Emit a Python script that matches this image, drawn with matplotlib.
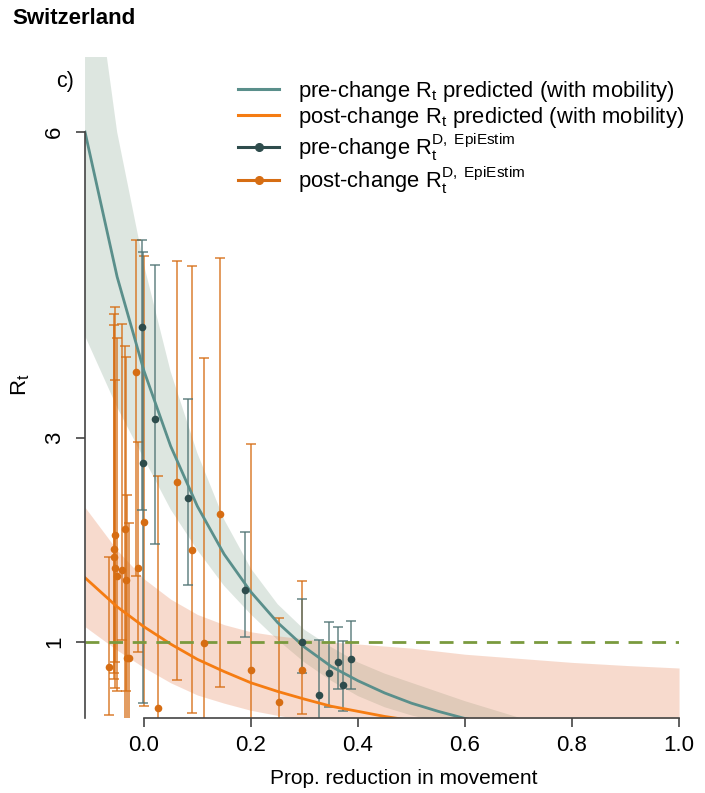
import matplotlib
matplotlib.use("Agg")
import matplotlib.pyplot as plt
from matplotlib.lines import Line2D

plt.rcParams['font.family'] = ['Liberation Sans', 'DejaVu Sans']
plt.rcParams['mathtext.fontset'] = 'custom'
plt.rcParams['mathtext.rm'] = 'Liberation Sans'
plt.rcParams['mathtext.it'] = 'Liberation Sans:italic'

# fitted curves and bands
pre_x = [-0.11, -0.05, 0.0, 0.05, 0.1, 0.15, 0.2, 0.25, 0.3, 0.35, 0.4, 0.45, 0.5, 0.55, 0.6, 0.65, 0.7]
pre_fit = [6.00, 4.58, 3.66, 2.92, 2.33, 1.86, 1.49, 1.19, 0.95, 0.76, 0.62, 0.50, 0.40, 0.32, 0.25, 0.20, 0.16]
pre_hi = [8.30, 6.00, 4.70, 3.65, 2.85, 2.20, 1.72, 1.37, 1.12, 0.95, 0.80, 0.69, 0.60, 0.51, 0.42, 0.34, 0.26]
pre_lo = [4.00, 3.30, 2.80, 2.30, 1.90, 1.55, 1.27, 1.02, 0.80, 0.62, 0.47, 0.36, 0.28, 0.22, 0.17, 0.13, 0.10]

post_x = [-0.11, -0.05, 0.0, 0.05, 0.1, 0.15, 0.2, 0.25, 0.3, 0.35, 0.4, 0.45, 0.5, 0.6, 0.7, 0.8, 0.9, 1.0]
post_fit = [1.63, 1.345, 1.15, 0.98, 0.83, 0.71, 0.60, 0.515, 0.44, 0.37, 0.32, 0.27, 0.23, 0.17, 0.12, 0.09, 0.07, 0.05]
post_hi = [2.32, 1.90, 1.62, 1.42, 1.27, 1.17, 1.10, 1.06, 1.03, 1.00, 0.98, 0.96, 0.94, 0.88, 0.84, 0.80, 0.77, 0.745]
post_lo = [1.15, 0.92, 0.75, 0.60, 0.48, 0.40, 0.33, 0.28, 0.24, 0.20, 0.17, 0.14, 0.12, 0.09, 0.07, 0.05, 0.04, 0.03]

# EpiEstim estimates, pre-change
pre_mob = [-0.003, -0.002, 0.021, 0.083, 0.189, 0.295, 0.327, 0.346, 0.362, 0.372, 0.387]
pre_r = [4.09, 2.75, 3.19, 2.41, 1.51, 1.00, 0.48, 0.70, 0.80, 0.58, 0.83]
pre_r_lo = [2.29, 0.40, 1.96, 1.56, 1.05, 0.70, 0.15, 0.36, 0.54, 0.32, 0.54]
pre_r_hi = [4.94, 4.82, 4.70, 3.38, 2.08, 1.42, 1.02, 1.20, 1.15, 1.01, 1.21]

# EpiEstim estimates, post-change
post_mob = [-0.065, -0.056, -0.056, -0.054, -0.054, -0.050, -0.041, -0.036, -0.034, -0.032, -0.028,
            -0.015, -0.011, 0.000, 0.026, 0.062, 0.090, 0.112, 0.142, 0.200, 0.252, 0.295]
post_r = [0.75, 1.91, 1.83, 2.05, 1.73, 1.65, 1.71, 2.11, 1.61, 0.84, 0.84,
          3.65, 1.73, 2.18, 0.35, 2.57, 1.90, 0.99, 2.25, 0.73, 0.41, 0.73]
post_r_lo = [0.28, 0.70, 0.64, 0.80, 0.55, 0.52, 1.02, 0.15, 0.52, 0.15, 0.15,
             1.65, 0.90, 0.37, 0.10, 0.63, 0.30, 0.10, 0.56, 0.10, 0.10, 0.29]
post_r_hi = [1.83, 4.22, 4.11, 4.28, 3.57, 3.98, 4.12, 3.90, 3.79, 2.44, 2.17,
             4.94, 2.96, 4.78, 2.63, 4.74, 4.69, 3.78, 4.76, 2.94, 1.24, 1.60]

x_ticks = [0.0, 0.2, 0.4, 0.6, 0.8, 1.0]
x_labels = ['0.0', '0.2', '0.4', '0.6', '0.8', '1.0']
y_ticks = [1, 3, 6]

teal = '#5a8f8b'
orange = '#f57c12'
dark = '#2e4c4c'
rust = '#d66d13'

fig = plt.figure(figsize=(7.05, 7.93), dpi=100)
ax = fig.add_axes([0.1206, 0.0946, 0.8426, 0.8335])

ax.fill_between(pre_x, pre_lo, pre_hi, color='#9fb8a8', alpha=0.35, lw=0)
ax.fill_between(post_x, post_lo, post_hi, color='#e8916a', alpha=0.33, lw=0)

pre_err = [[r - lo for r, lo in zip(pre_r, pre_r_lo)], [hi - r for r, hi in zip(pre_r, pre_r_hi)]]
post_err = [[r - lo for r, lo in zip(post_r, post_r_lo)], [hi - r for r, hi in zip(post_r, post_r_hi)]]
ax.errorbar(post_mob, post_r, yerr=post_err, fmt='none', ecolor=rust, alpha=0.8,
            elinewidth=1.2, capsize=3.5, capthick=1.2)
ax.errorbar(pre_mob, pre_r, yerr=pre_err, fmt='none', ecolor='#4f7373', alpha=0.8,
            elinewidth=1.2, capsize=3.5, capthick=1.2)

ax.plot(pre_x, pre_fit, color=teal, lw=2)
ax.plot(post_x, post_fit, color=orange, lw=2)
ax.axhline(1, color='#7a9a3e', lw=2, ls=(0, (5, 3.5)))

ax.plot(post_mob, post_r, 'o', color=rust, ms=5.5, mec='none')
ax.plot(pre_mob, pre_r, 'o', color=dark, ms=5.5, mec='none')

ax.set_xlim(-0.11, 1.0)
ax.set_ylim(0.255, 6.735)
for s in ['top', 'right']:
    ax.spines[s].set_visible(False)
ax.spines['left'].set_bounds(0.255, 6)
ax.spines['bottom'].set_bounds(0, 1)
for s in ['left', 'bottom']:
    ax.spines[s].set_color('#444444')
    ax.spines[s].set_linewidth(1.2)

ax.set_xticks(x_ticks)
ax.set_xticklabels(x_labels)
ax.set_yticks(y_ticks)
ax.set_yticklabels([str(v) for v in y_ticks], rotation=90, va='center')
ax.tick_params(axis='both', length=6.5, width=1.2, color='#444444', labelsize=16)
ax.tick_params(axis='x', pad=6)
ax.tick_params(axis='y', pad=8)

ax.set_xlabel('Prop. reduction in movement', fontsize=15, labelpad=10)
ax.xaxis.set_label_coords(0.537, -0.077)
fig.text(21 / 705, 1 - 385 / 793, r'R$_\mathregular{t}$', rotation=90, fontsize=16,
         ha='center', va='center')

fig.text(12 / 705, 1 - 19 / 793, 'Switzerland', fontsize=16, fontweight='bold',
         ha='left', va='center')
fig.text(65 / 705, 1 - 82 / 793, 'c)', fontsize=15.5, ha='center', va='center')

handles = [
    Line2D([], [], color=teal, lw=2.2),
    Line2D([], [], color=orange, lw=2.2),
    Line2D([], [], color=dark, lw=2.2, marker='o', ms=5.5),
    Line2D([], [], color=rust, lw=2.2, marker='o', ms=5.5),
]
labels = [
    r'pre-change R$_\mathregular{t}$ predicted (with mobility)',
    r'post-change R$_\mathregular{t}$ predicted (with mobility)',
    r'pre-change R$_\mathregular{t}^\mathregular{D,\ EpiEstim}$',
    r'post-change R$_\mathregular{t}^\mathregular{D,\ EpiEstim}$',
]
ax.legend(handles, labels, loc='upper left', bbox_to_anchor=(0.235, 0.987), frameon=False,
          fontsize=15.8, handlelength=1.9, handletextpad=0.85, labelspacing=0.05,
          borderaxespad=0.2)

fig.savefig('out.png', dpi=100)
